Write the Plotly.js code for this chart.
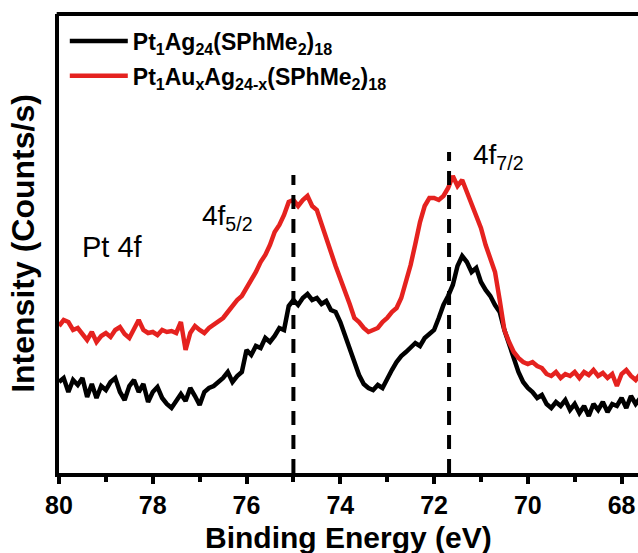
<!DOCTYPE html>
<html>
<head>
<meta charset="utf-8">
<script src="https://cdn.plot.ly/plotly-3.0.1.min.js"></script>
<style>html,body{margin:0;padding:0;background:#fff;}#chart{width:638px;height:553px;}</style>
</head>
<body>
<div id="chart"></div>
<script>
// Binding energy (eV), 80.0 -> 67.6 in 0.1 eV steps
const energy = [80.0,79.9,79.8,79.7,79.6,79.5,79.4,79.3,79.2,79.1,79.0,78.9,78.8,78.7,78.6,78.5,78.4,78.3,78.2,78.1,78.0,77.9,77.8,77.7,77.6,77.5,77.4,77.3,77.2,77.1,77.0,76.9,76.8,76.7,76.6,76.5,76.4,76.3,76.2,76.1,76.0,75.9,75.8,75.7,75.6,75.5,75.4,75.3,75.2,75.1,75.0,74.9,74.8,74.7,74.6,74.5,74.4,74.3,74.2,74.1,74.0,73.9,73.8,73.7,73.6,73.5,73.4,73.3,73.2,73.1,73.0,72.9,72.8,72.7,72.6,72.5,72.4,72.3,72.2,72.1,72.0,71.9,71.8,71.7,71.6,71.5,71.4,71.3,71.2,71.1,71.0,70.9,70.8,70.7,70.6,70.5,70.4,70.3,70.2,70.1,70.0,69.9,69.8,69.7,69.6,69.5,69.4,69.3,69.2,69.1,69.0,68.9,68.8,68.7,68.6,68.5,68.4,68.3,68.2,68.1,68.0,67.9,67.8,67.7,67.6];

// Pt1Ag24(SPhMe2)18 (black)
const intensityAg = [91,95,81,93,88,95,76,89,75,87,83,91,95,81,73,87,93,81,89,71,81,86,75,69,65,73,79,72,85,77,68,81,85,87,91,95,101,91,97,101,123,118,127,125,135,131,137,145,143,167,173,168,175,179,173,175,169,172,163,161,151,138,123,111,98,89,85,83,88,85,95,103,111,117,121,125,130,127,135,139,143,155,168,177,188,207,217,211,201,205,191,183,177,168,161,143,128,115,101,91,85,81,75,78,69,65,71,67,73,63,69,60,67,57,69,63,71,61,69,67,75,65,77,69,75];

// Pt1AuxAg24-x(SPhMe2)18 (red)
const intensityAu = [147,153,151,143,145,138,133,141,131,137,140,136,143,146,139,135,143,153,143,140,141,138,143,141,142,140,151,123,140,147,143,140,145,148,151,155,161,168,173,177,185,191,201,211,218,228,241,248,258,271,273,267,273,277,267,263,248,233,221,207,195,181,169,155,151,145,141,143,145,151,155,161,165,175,191,208,229,251,267,275,275,273,277,285,297,287,293,281,268,258,245,228,215,201,173,143,131,121,115,111,109,111,107,105,99,97,101,95,99,97,101,95,101,98,103,97,100,95,99,87,99,103,97,93,99];

const seriesNames = ["Pt<sub>1</sub>Ag<sub>24</sub>(SPhMe<sub>2</sub>)<sub>18</sub>",
                     "Pt<sub>1</sub>Au<sub>x</sub>Ag<sub>24-x</sub>(SPhMe<sub>2</sub>)<sub>18</sub>"];
const xTicks = [80,78,76,74,72,70,68];
const peakEnergy = [75.0, 71.68];
const peakMarkTop = [298, 321];
const peakLabels = ["4f<sub>5/2</sub>", "4f<sub>7/2</sub>"];
const peakLabelX = [76.4, 70.62];
const peakLabelY = [256, 317];
const xTitle = "Binding Energy (eV)";
const yTitle = "Intensity (Counts/s)";

const font = "Liberation Sans, Arial, sans-serif";

const traces = [
  {x: energy, y: intensityAg, type: "scatter", mode: "lines", name: seriesNames[0], legendgroup: "a",
   line: {color: "#000000", width: 4.5}},
  {x: energy, y: intensityAu, type: "scatter", mode: "lines", name: seriesNames[1], legendgroup: "b",
   line: {color: "#e5221f", width: 4.5}}
];

const shapes = peakEnergy.map((e, i) => ({
  type: "line", xref: "x", yref: "y", x0: e, x1: e, y0: 0, y1: peakMarkTop[i],
  line: {color: "#000", width: 4, dash: "14px,10px"}, layer: "above"
}));
// top frame
shapes.push({type: "line", xref: "paper", yref: "paper", x0: -0.004, x1: 1, y0: 1, y1: 1,
  line: {color: "#000", width: 4}});

const annotations = peakLabels.map((t, i) => ({
  x: peakLabelX[i], y: peakLabelY[i], xref: "x", yref: "y", text: t, showarrow: false,
  font: {family: font, size: 28, color: "#000"}, xanchor: "center", yanchor: "middle"
}));
annotations.push({x: 79.55, y: 226, xref: "x", yref: "y", text: "Pt 4f", showarrow: false,
  font: {family: font, size: 29, color: "#000"}, xanchor: "left", yanchor: "middle"});
annotations.push({x: 0.5, y: -0.1405, xref: "paper", yref: "paper", text: xTitle, showarrow: false,
  font: {family: font, size: 30, color: "#000", weight: "bold"}, xanchor: "center", yanchor: "middle"});

const layout = {
  width: 638, height: 553,
  margin: {l: 59, r: 0, t: 14, b: 80},
  paper_bgcolor: "#fff", plot_bgcolor: "#fff",
  showlegend: true,
  legend: {x: 0.01, y: 0.988, xanchor: "left", yanchor: "top", bgcolor: "rgba(0,0,0,0)",
    traceorder: "grouped", tracegroupgap: 2, itemwidth: 58,
    font: {family: font, size: 23, color: "#000", weight: "bold"}},
  xaxis: {
    range: [80, 67.65], tickvals: xTicks, ticktext: xTicks.map(String),
    ticks: "outside", ticklen: 7, tickwidth: 4, tickcolor: "#000",
    minor: {dtick: 1, ticks: "outside", ticklen: 5, tickwidth: 4, tickcolor: "#000"},
    showline: true, linewidth: 4, linecolor: "#000", showgrid: false, zeroline: false,
    tickfont: {family: font, size: 25, color: "#000", weight: "bold"}
  },
  yaxis: {
    range: [0, 459], showticklabels: false, ticks: "", showline: true, linewidth: 4, linecolor: "#000",
    showgrid: false, zeroline: false,
    title: {text: yTitle, font: {family: font, size: 32, color: "#000", weight: "bold"}, standoff: 12}
  },
  shapes: shapes,
  annotations: annotations
};

Plotly.newPlot("chart", traces, layout, {displayModeBar: false, staticPlot: true});
</script>
</body>
</html>
